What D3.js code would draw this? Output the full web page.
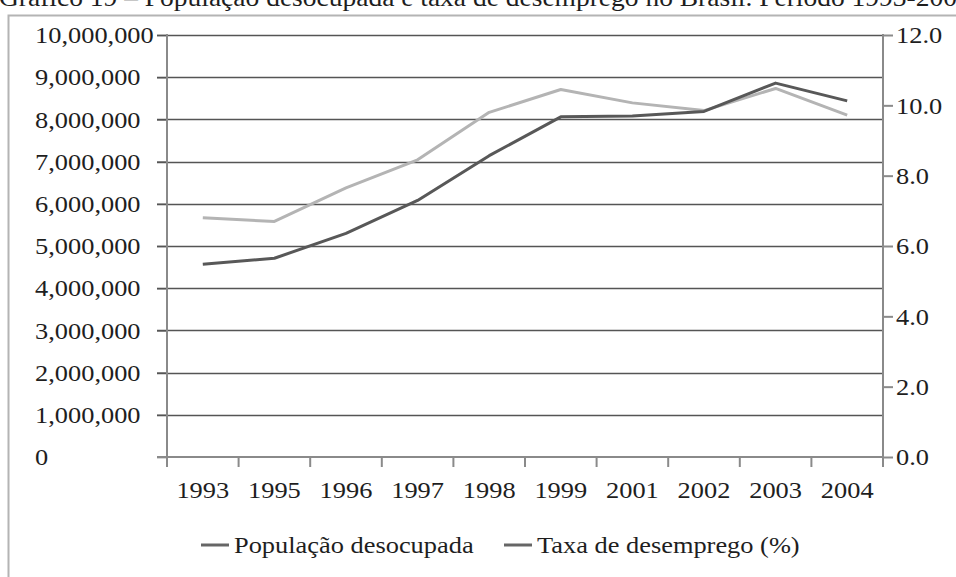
<!DOCTYPE html>
<html>
<head>
<meta charset="utf-8">
<script src="https://cdn.jsdelivr.net/npm/d3@7"></script>
<style>
  body { margin: 0; background: #fff; }
  svg { display: block; }
  text { font-family: "Liberation Serif", "Times New Roman", serif; fill: #1e1e1e; font-size: 24px; }
</style>
</head>
<body>
<div id="chart"></div>
<script>
// data
const years = ['1993', '1995', '1996', '1997', '1998', '1999', '2001', '2002', '2003', '2004'];
const desocupada = [4570000, 4710000, 5300000, 6080000, 7140000, 8060000, 8080000, 8190000, 8860000, 8440000];
const taxa = [6.8, 6.7, 7.65, 8.45, 9.8, 10.45, 10.07, 9.85, 10.48, 9.72];
const leftTicks = [0, 1e6, 2e6, 3e6, 4e6, 5e6, 6e6, 7e6, 8e6, 9e6, 10e6];
const rightTicks = [0, 2, 4, 6, 8, 10, 12];
const seriesNames = ['População desocupada', 'Taxa de desemprego (%)'];
const title = 'Gráfico 19 – População desocupada e taxa de desemprego no Brasil. Período 1993-2004';

const W = 956, H = 577;
const plot = {left: 167, right: 883, top: 35, bottom: 457};
const stretch = 'scale(1.1,1)'; // the reference text is a bit wide

const svg = d3.select('#chart').append('svg')
  .attr('width', W)
  .attr('height', H);

// title, cut off at the top like the reference
svg.append('text')
  .attr('transform', 'translate(-1,6) ' + stretch)
  .style('font-size', '25px')
  .text(title);

// frame around the chart
svg.append('path')
  .attr('d', `M8.5,${H} V15.5 H${W}`)
  .attr('fill', 'none')
  .attr('stroke', '#b4b4b4')
  .attr('stroke-width', 2);

const x = d3.scaleBand().domain(years).range([plot.left, plot.right]);
const yLeft = d3.scaleLinear().domain([0, 10e6]).range([plot.bottom, plot.top]);
const yRight = d3.scaleLinear().domain([0, 12]).range([plot.bottom, plot.top]);

// gridlines
svg.append('g')
  .selectAll('line')
  .data(leftTicks.slice(1))
  .enter()
  .append('line')
  .attr('x1', plot.left - 10)
  .attr('x2', plot.right)
  .attr('y1', d => Math.round(yLeft(d)) + 0.5)
  .attr('y2', d => Math.round(yLeft(d)) + 0.5)
  .attr('stroke', '#555')
  .attr('stroke-width', 1.5);

// left axis
const gLeft = svg.append('g')
  .attr('transform', `translate(${plot.left},0)`)
  .call(d3.axisLeft(yLeft).tickValues(leftTicks).tickSize(10).tickFormat(d3.format(',')));
gLeft.select('.domain').remove();
gLeft.selectAll('.tick line').attr('stroke', '#555').attr('stroke-width', 1.5);
gLeft.selectAll('.tick text')
  .attr('x', 0)
  .attr('transform', `translate(${35 - plot.left},0) ` + stretch)
  .attr('text-anchor', 'start')
  .attr('fill', '#1e1e1e');

// right axis
const gRight = svg.append('g')
  .attr('transform', `translate(${plot.right},0)`)
  .call(d3.axisRight(yRight).tickValues(rightTicks).tickSize(10).tickFormat(d3.format('.1f')));
gRight.select('.domain').remove();
gRight.selectAll('.tick line').attr('stroke', '#8a8a8a').attr('stroke-width', 2);
gRight.selectAll('.tick text')
  .attr('x', 0)
  .attr('transform', 'translate(13,0) ' + stretch)
  .attr('fill', '#1e1e1e');

// bottom axis (labels at band centres, ticks at band edges)
const gBottom = svg.append('g')
  .attr('transform', `translate(0,${plot.bottom})`)
  .call(d3.axisBottom(x).tickSize(0).tickPadding(24));
gBottom.select('.domain').remove();
gBottom.selectAll('.tick text')
  .attr('transform', stretch)
  .attr('fill', '#1e1e1e');
svg.append('g')
  .selectAll('line')
  .data(years.concat(['end']))
  .enter()
  .append('line')
  .attr('x1', (d, i) => plot.left + i * x.step())
  .attr('x2', (d, i) => plot.left + i * x.step())
  .attr('y1', plot.bottom)
  .attr('y2', plot.bottom + 10)
  .attr('stroke', '#8a8a8a')
  .attr('stroke-width', 2);

// axis lines
svg.append('path')
  .attr('d', `M${plot.left},${plot.top - 1} V${plot.bottom + 10} M${plot.left - 10},${plot.bottom} H${plot.right} M${plot.right},${plot.top - 1} V${plot.bottom + 10}`)
  .attr('fill', 'none')
  .attr('stroke', '#8a8a8a')
  .attr('stroke-width', 2);

// series lines
const lineLeft = d3.line()
  .x((d, i) => x(years[i]) + x.bandwidth() / 2)
  .y(d => yLeft(d));
const lineRight = d3.line()
  .x((d, i) => x(years[i]) + x.bandwidth() / 2)
  .y(d => yRight(d));

svg.append('path')
  .datum(taxa)
  .attr('d', lineRight)
  .attr('fill', 'none')
  .attr('stroke', '#b4b4b4')
  .attr('stroke-width', 3)
  .attr('stroke-linejoin', 'round');

svg.append('path')
  .datum(desocupada)
  .attr('d', lineLeft)
  .attr('fill', 'none')
  .attr('stroke', '#585858')
  .attr('stroke-width', 3)
  .attr('stroke-linejoin', 'round');

// legend
const legendX = [201, 504];
const legend = svg.append('g')
  .selectAll('g')
  .data(seriesNames)
  .enter()
  .append('g')
  .attr('transform', (d, i) => `translate(${legendX[i]},545)`);
legend.append('line')
  .attr('x1', 0)
  .attr('x2', 28)
  .attr('stroke', '#666')
  .attr('stroke-width', 3);
legend.append('text')
  .attr('transform', 'translate(33,8) ' + stretch)
  .text(d => d);
</script>
</body>
</html>
